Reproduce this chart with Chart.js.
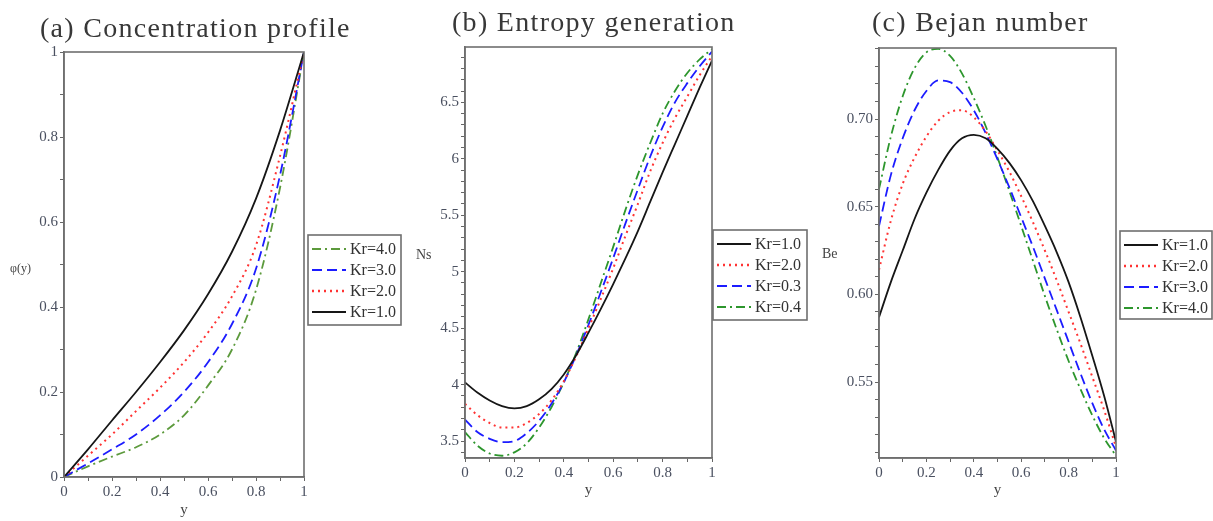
<!DOCTYPE html>
<html lang="en">
<head>
<meta charset="UTF-8">
<title>Kr - perfis</title>
<script src="https://cdn.jsdelivr.net/npm/chart.js"></script>
<style>
    body { margin: 0; background: #fff; width: 1213px; height: 521px; position: relative; overflow: hidden; font-family: "Liberation Serif", "DejaVu Serif", serif; }
    canvas { position: absolute; top: 0; }
    .titulo { position: absolute; font-size: 28px; color: #383838; white-space: nowrap; z-index: 2; letter-spacing: 1.3px; }
    .eixo { position: absolute; color: #444; white-space: nowrap; z-index: 2; }
</style>
</head>
<body>
<div class="titulo" style="left:40px;top:12px">(a) Concentration profile</div>
<div class="titulo" style="left:452px;top:6px">(b) Entropy generation</div>
<div class="titulo" style="left:872px;top:6px">(c) Bejan number</div>
<div class="eixo" style="left:10px;top:261px;font-size:12px">φ(y)</div>
<div class="eixo" style="left:416px;top:247px;font-size:14px">Ns</div>
<div class="eixo" style="left:822px;top:246px;font-size:14px">Be</div>

<canvas id="grafico_a" width="405" height="521" style="left:0px"></canvas>
<canvas id="grafico_b" width="405" height="521" style="left:405px"></canvas>
<canvas id="grafico_c" width="403" height="521" style="left:810px"></canvas>

<script>
// (a) concentration profile, y = 0 .. 1 step 0.1
const yA = [0, 0.1, 0.2, 0.3, 0.4, 0.5, 0.6, 0.7, 0.8, 0.9, 1];
const phiKr1 = [0, 0.065, 0.133, 0.2, 0.27, 0.345, 0.43, 0.53, 0.655, 0.815, 1];
const phiKr2 = [0, 0.05, 0.10, 0.155, 0.21, 0.27, 0.34, 0.425, 0.545, 0.755, 1];
const phiKr3 = [0, 0.032, 0.065, 0.10, 0.145, 0.20, 0.27, 0.36, 0.49, 0.71, 1];
const phiKr4 = [0, 0.025, 0.048, 0.07, 0.10, 0.145, 0.215, 0.30, 0.44, 0.68, 1];

// (b) entropy generation and (c) Bejan number, y = 0 .. 1 step 0.05
const yBC = [0, 0.05, 0.1, 0.15, 0.2, 0.25, 0.3, 0.35, 0.4, 0.45, 0.5, 0.55, 0.6, 0.65, 0.7, 0.75, 0.8, 0.85, 0.9, 0.95, 1];
const nsKr1 = [4.02, 3.93, 3.86, 3.81, 3.79, 3.81, 3.87, 3.96, 4.09, 4.26, 4.46, 4.67, 4.89, 5.12, 5.36, 5.62, 5.88, 6.13, 6.38, 6.63, 6.87];
const nsKr2 = [3.83, 3.73, 3.66, 3.62, 3.62, 3.66, 3.74, 3.86, 4.03, 4.25, 4.50, 4.76, 5.03, 5.32, 5.60, 5.89, 6.14, 6.36, 6.55, 6.74, 6.91];
const nsKr03 = [3.69, 3.58, 3.52, 3.49, 3.50, 3.57, 3.68, 3.83, 4.02, 4.26, 4.53, 4.82, 5.12, 5.43, 5.73, 6.02, 6.28, 6.50, 6.67, 6.82, 6.95];
const nsKr04 = [3.58, 3.46, 3.39, 3.37, 3.40, 3.48, 3.62, 3.80, 4.02, 4.28, 4.58, 4.90, 5.22, 5.55, 5.86, 6.14, 6.40, 6.60, 6.76, 6.88, 6.97];

const beKr1 = [0.587, 0.607, 0.625, 0.643, 0.658, 0.671, 0.682, 0.689, 0.691, 0.689, 0.683, 0.675, 0.665, 0.653, 0.639, 0.624, 0.607, 0.587, 0.565, 0.542, 0.516];
const beKr2 = [0.614, 0.642, 0.663, 0.678, 0.690, 0.699, 0.704, 0.705, 0.701, 0.693, 0.682, 0.670, 0.656, 0.641, 0.625, 0.608, 0.590, 0.572, 0.553, 0.534, 0.513];
const beKr3 = [0.639, 0.668, 0.689, 0.705, 0.716, 0.722, 0.721, 0.715, 0.705, 0.692, 0.677, 0.661, 0.644, 0.627, 0.609, 0.591, 0.573, 0.555, 0.538, 0.523, 0.511];
const beKr4 = [0.660, 0.690, 0.713, 0.729, 0.738, 0.740, 0.736, 0.726, 0.712, 0.696, 0.678, 0.659, 0.639, 0.619, 0.599, 0.580, 0.562, 0.546, 0.531, 0.518, 0.508];

// ticks
const ticksX = [0, 0.1, 0.2, 0.3, 0.4, 0.5, 0.6, 0.7, 0.8, 0.9, 1];
const labelsX = ['0', '', '0.2', '', '0.4', '', '0.6', '', '0.8', '', '1'];
const ticksYA = [0, 0.1, 0.2, 0.3, 0.4, 0.5, 0.6, 0.7, 0.8, 0.9, 1];
const labelsYA = ['0', '', '0.2', '', '0.4', '', '0.6', '', '0.8', '', '1'];
const ticksYB = [3.4, 3.5, 3.6, 3.7, 3.8, 3.9, 4, 4.1, 4.2, 4.3, 4.4, 4.5, 4.6, 4.7, 4.8, 4.9, 5, 5.1, 5.2, 5.3, 5.4, 5.5, 5.6, 5.7, 5.8, 5.9, 6, 6.1, 6.2, 6.3, 6.4, 6.5, 6.6, 6.7, 6.8, 6.9];
const labelsYB = ['', '3.5', '', '', '', '', '4', '', '', '', '', '4.5', '', '', '', '', '5', '', '', '', '', '5.5', '', '', '', '', '6', '', '', '', '', '6.5', '', '', '', ''];
const ticksYC = [0.51, 0.52, 0.53, 0.54, 0.55, 0.56, 0.57, 0.58, 0.59, 0.60, 0.61, 0.62, 0.63, 0.64, 0.65, 0.66, 0.67, 0.68, 0.69, 0.70, 0.71, 0.72, 0.73, 0.74];
const labelsYC = ['', '', '', '', '0.55', '', '', '', '', '0.60', '', '', '', '', '0.65', '', '', '', '', '0.70', '', '', '', ''];

function pontos(xs, ys) {
    return xs.map((x, i) => ({ x: x, y: ys[i] }));
}

const fonteTick = { family: '"Liberation Serif", serif', size: 15 };
const corTick = '#4a5060';

// estilos das linhas
function linha(label, xs, ys, tipo, corVerde) {
    const ds = { label: label, data: pontos(xs, ys), pointRadius: 0, borderWidth: 1.8, fill: false, cubicInterpolationMode: 'monotone' };
    if (tipo === 'solida') { ds.borderColor = '#161616'; ds.borderDash = []; }
    if (tipo === 'ponto') { ds.borderColor = '#ff3333'; ds.borderDash = [2, 4]; ds.borderWidth = 2; }
    if (tipo === 'traco') { ds.borderColor = '#1c1cff'; ds.borderDash = [10, 5]; }
    if (tipo === 'tracoponto') { ds.borderColor = corVerde; ds.borderDash = [9, 4, 2, 4]; }
    return ds;
}

// moldura em volta da area do grafico
const moldura = {
    id: 'moldura',
    afterDraw(chart) {
        const a = chart.chartArea, ctx = chart.ctx;
        ctx.save();
        ctx.strokeStyle = '#6f6f6f';
        ctx.lineWidth = 1.6;
        ctx.strokeRect(a.left, a.top, a.right - a.left, a.bottom - a.top);
        ctx.restore();
    }
};

// legenda com caixa, desenhada a partir dos datasets
const legendaCaixa = {
    id: 'legendaCaixa',
    afterDraw(chart, args, opts) {
        const ctx = chart.ctx;
        let lista = chart.data.datasets.slice();
        if (opts.reverse) lista.reverse();
        ctx.save();
        ctx.strokeStyle = '#6f6f6f';
        ctx.lineWidth = 1.6;
        ctx.strokeRect(opts.x, opts.y, opts.w, opts.h);
        lista.forEach((ds, i) => {
            const yy = opts.y + 14 + i * opts.passo;
            ctx.beginPath();
            ctx.setLineDash(ds.borderDash || []);
            ctx.strokeStyle = ds.borderColor;
            ctx.lineWidth = ds.borderWidth + 0.4;
            ctx.moveTo(opts.x + 4, yy);
            ctx.lineTo(opts.x + 38, yy);
            ctx.stroke();
            ctx.setLineDash([]);
            ctx.fillStyle = '#333';
            ctx.font = '16px "Liberation Serif", serif';
            ctx.textBaseline = 'middle';
            ctx.fillText(ds.label, opts.x + 42, yy + 1);
        });
        ctx.restore();
    }
};

function eixo(min, max, tks, lbls, tamanho, horizontal, titulo, padTitulo) {
    const e = {
        type: 'linear', min: min, max: max,
        afterBuildTicks: s => { s.ticks = tks.map(v => ({ value: v })); },
        afterFit: s => { if (horizontal) s.height = tamanho; else s.width = tamanho; },
        ticks: { autoSkip: false, maxRotation: 0, padding: 2, color: corTick, font: fonteTick, callback: (v, i) => lbls[i] },
        grid: { display: true, drawOnChartArea: false, tickLength: 4, color: '#666', tickWidth: 1 },
        border: { display: true, color: '#6f6f6f', width: 1.6 }
    };
    if (titulo) e.title = { display: true, text: titulo, color: '#444', font: { family: '"Liberation Serif", serif', size: 15 }, padding: padTitulo };
    return e;
}

function criarGrafico(id, datasets, escalaX, escalaY, padding, leg) {
    return new Chart(document.getElementById(id), {
        type: 'line',
        data: { datasets: datasets },
        options: {
            responsive: false,
            animation: false,
            layout: { padding: padding },
            plugins: { legend: { display: false }, tooltip: { enabled: false }, legendaCaixa: leg },
            scales: { x: escalaX, y: escalaY }
        },
        plugins: [moldura, legendaCaixa]
    });
}

const verdeA = '#5c9a3c';
const verdeBC = '#2d962d';

criarGrafico('grafico_a', [
        linha('Kr=1.0', yA, phiKr1, 'solida'),
        linha('Kr=2.0', yA, phiKr2, 'ponto'),
        linha('Kr=3.0', yA, phiKr3, 'traco'),
        linha('Kr=4.0', yA, phiKr4, 'tracoponto', verdeA)
    ],
    eixo(0, 1, ticksX, labelsX, 44, true, 'y', { top: 0, bottom: 2 }),
    eixo(0, 1, ticksYA, labelsYA, 64, false),
    { left: 0, top: 52, right: 101, bottom: 0 },
    { x: 308, y: 235, w: 93, h: 90, passo: 21, reverse: true });

criarGrafico('grafico_b', [
        linha('Kr=1.0', yBC, nsKr1, 'solida'),
        linha('Kr=2.0', yBC, nsKr2, 'ponto'),
        linha('Kr=0.3', yBC, nsKr03, 'traco'),
        linha('Kr=0.4', yBC, nsKr04, 'tracoponto', verdeBC)
    ],
    eixo(0, 1, ticksX, labelsX, 63, true, 'y', { top: 0, bottom: 22 }),
    eixo(3.35, 6.99, ticksYB, labelsYB, 60, false),
    { left: 0, top: 47, right: 98, bottom: 0 },
    { x: 308, y: 230, w: 94, h: 90, passo: 21, reverse: false });

criarGrafico('grafico_c', [
        linha('Kr=1.0', yBC, beKr1, 'solida'),
        linha('Kr=2.0', yBC, beKr2, 'ponto'),
        linha('Kr=3.0', yBC, beKr3, 'traco'),
        linha('Kr=4.0', yBC, beKr4, 'tracoponto', verdeBC)
    ],
    eixo(0, 1, ticksX, labelsX, 63, true, 'y', { top: 0, bottom: 22 }),
    eixo(0.5067, 0.7405, ticksYC, labelsYC, 69, false),
    { left: 0, top: 48, right: 97, bottom: 0 },
    { x: 310, y: 231, w: 92, h: 88, passo: 21, reverse: false });
</script>
</body>
</html>
